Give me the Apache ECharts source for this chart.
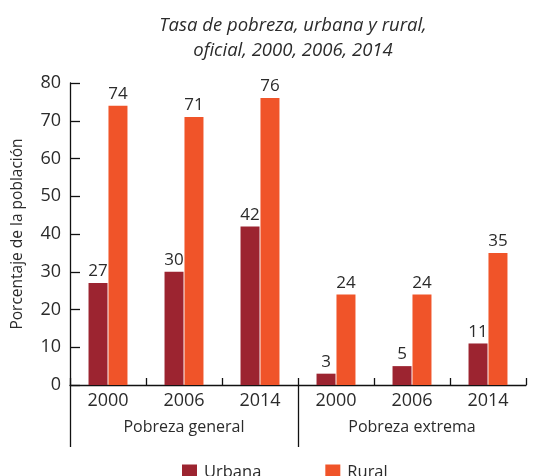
<!DOCTYPE html>
<html>
<head>
<meta charset="utf-8">
<script src="https://cdn.jsdelivr.net/npm/echarts@6/dist/echarts.min.js"></script>
<style>
  html, body { margin: 0; padding: 0; background: #fff; }
  #chart { width: 536px; height: 476px; }
</style>
</head>
<body>
<div id="chart"></div>
<script>
const years = ['2000', '2006', '2014', '2000', '2006', '2014'];
const groups = ['Pobreza general', 'Pobreza extrema'];
const urbana = [27, 30, 42, 3, 5, 11];
const rural = [74, 71, 76, 24, 24, 35];
const yTicks = [0, 10, 20, 30, 40, 50, 60, 70, 80];

const FONT = '"Open Sans", Lato, sans-serif';
const INK = '#2b2b2b';
const URB = '#9c2430';
const RUR = '#f05429';

const chart = echarts.init(document.getElementById('chart'), null, { renderer: 'canvas' });

const barLabel = {
  show: true,
  position: 'top',
  distance: 3,
  color: INK,
  fontFamily: FONT,
  fontSize: 17,
};

chart.setOption({
  animation: false,
  backgroundColor: '#fff',
  title: {
    text: 'Tasa de pobreza, urbana y rural,\noficial, 2000, 2006, 2014',
    left: 288,
    textAlign: 'center',
    top: 8,
    textStyle: {
      fontFamily: FONT,
      fontStyle: 'italic',
      fontWeight: 'normal',
      fontSize: 18.5,
      lineHeight: 25,
      color: INK,
    },
  },
  legend: {
    top: 459,
    left: 177,
    itemWidth: 15,
    itemHeight: 16,
    itemGap: 64,
    icon: 'rect',
    textStyle: { fontFamily: FONT, fontSize: 16.5, color: INK, padding: [0, 0, 0, 2] },
    data: ['Urbana', 'Rural'],
  },
  grid: { left: 70, right: 10, top: 83, bottom: 91 },
  xAxis: [
    {
      type: 'category',
      data: years,
      axisLine: { lineStyle: { color: '#111', width: 1.3 } },
      axisTick: { show: true, inside: true, length: 7, lineStyle: { color: '#111', width: 1.3 } },
      axisLabel: { color: INK, fontFamily: FONT, fontSize: 18, margin: 7 },
    },
    {
      type: 'value',
      position: 'bottom',
      min: 0,
      max: years.length,
      splitLine: { show: false },
      axisLine: { show: false },
      axisTick: {
        show: true,
        customValues: [0, years.length / 2],
        length: 62,
        lineStyle: { color: '#111', width: 1.3 },
      },
      axisLabel: {
        customValues: [years.length / 4, years.length * 3 / 4],
        formatter: (v) => groups[v < years.length / 2 ? 0 : 1],
        color: INK,
        fontFamily: FONT,
        fontSize: 16,
        margin: 34,
      },
    },
  ],
  yAxis: {
    type: 'value',
    min: 0,
    max: 80,
    interval: 10,
    name: 'Porcentaje de la población',
    nameLocation: 'middle',
    nameGap: 44,
    nameTextStyle: { fontFamily: FONT, fontSize: 15.5, color: INK },
    axisLine: { show: true, lineStyle: { color: '#111', width: 1.3 } },
    axisTick: { show: true, inside: true, length: 10, lineStyle: { color: '#111', width: 1.3 } },
    axisLabel: {
      color: INK,
      fontFamily: FONT,
      fontSize: 18,
      margin: 9,
      customValues: yTicks,
    },
    splitLine: { show: false },
  },
  series: [
    {
      name: 'Urbana',
      type: 'bar',
      xAxisIndex: 0,
      data: urbana,
      barWidth: 19,
      barGap: '5%',
      itemStyle: { color: URB },
      label: barLabel,
    },
    {
      name: 'Rural',
      type: 'bar',
      xAxisIndex: 0,
      data: rural,
      barWidth: 19,
      barGap: '5%',
      itemStyle: { color: RUR },
      label: barLabel,
    },
  ],
});
</script>
</body>
</html>
